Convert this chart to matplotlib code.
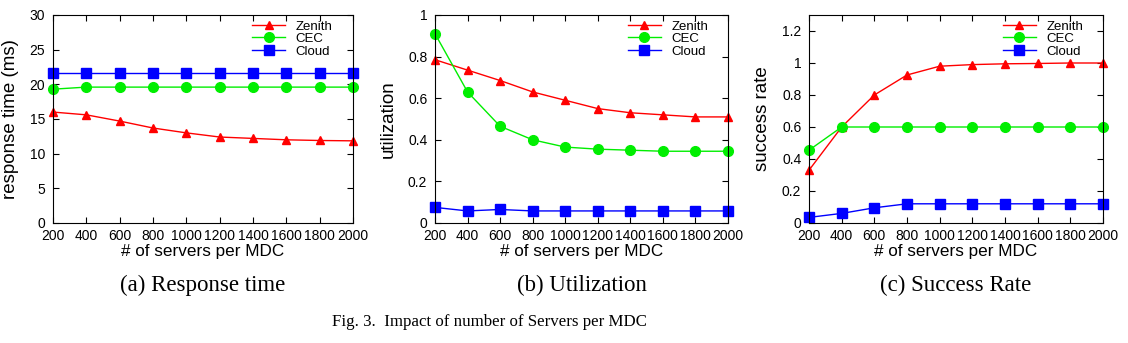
import matplotlib
matplotlib.use('Agg')
import matplotlib.pyplot as plt

plt.rcParams['font.family'] = ['Liberation Sans', 'DejaVu Sans']

# número de servidores por MDC
servers = [200, 400, 600, 800, 1000, 1200, 1400, 1600, 1800, 2000]

# (a) tiempo de respuesta (ms)
resp_zenith = [16.0, 15.6, 14.7, 13.7, 13.0, 12.4, 12.2, 12.0, 11.9, 11.85]
resp_cec = [19.3, 19.6, 19.6, 19.6, 19.6, 19.6, 19.6, 19.6, 19.6, 19.6]
resp_cloud = [21.7, 21.7, 21.7, 21.7, 21.7, 21.7, 21.7, 21.7, 21.7, 21.7]

# (b) utilización
util_zenith = [0.785, 0.735, 0.685, 0.63, 0.59, 0.55, 0.53, 0.52, 0.51, 0.51]
util_cec = [0.91, 0.63, 0.465, 0.40, 0.365, 0.355, 0.35, 0.345, 0.345, 0.345]
util_cloud = [0.075, 0.058, 0.065, 0.058, 0.058, 0.058, 0.058, 0.058, 0.058, 0.058]

# (c) tasa de éxito
succ_zenith = [0.33, 0.60, 0.80, 0.925, 0.98, 0.99, 0.995, 0.997, 1.0, 1.0]
succ_cec = [0.455, 0.60, 0.60, 0.60, 0.60, 0.60, 0.60, 0.60, 0.60, 0.60]
succ_cloud = [0.035, 0.06, 0.095, 0.12, 0.12, 0.12, 0.12, 0.12, 0.12, 0.12]

fig = plt.figure(figsize=(11.28, 3.43), dpi=100)

paneles = [
    ([53, 15, 300, 208], resp_zenith, resp_cec, resp_cloud, (0, 30), [0, 5, 10, 15, 20, 25, 30],
     ['0', '5', '10', '15', '20', '25', '30'], 'response time (ms)', '(a) Response time'),
    ([435, 15, 293, 208], util_zenith, util_cec, util_cloud, (0, 1), [0, 0.2, 0.4, 0.6, 0.8, 1],
     ['0', '0.2', '0.4', '0.6', '0.8', '1'], 'utilization', '(b) Utilization'),
    ([809, 15, 294, 208], succ_zenith, succ_cec, succ_cloud, (0, 1.3), [0, 0.2, 0.4, 0.6, 0.8, 1, 1.2],
     ['0', '0.2', '0.4', '0.6', '0.8', '1', '1.2'], 'success rate', '(c) Success Rate'),
]

W, H = 1128.0, 343.0
serif = ['Liberation Serif', 'DejaVu Serif']
for rect, zen, cec, cloud, ylim, yticks, ylabels, ylab, caption in paneles:
    x0, y0, w, h = rect
    ax = fig.add_axes([x0 / W, 1 - (y0 + h) / H, w / W, h / H])
    ax.plot(servers, zen, color='#ff0000', marker='^', markersize=6, lw=1, label='Zenith', clip_on=False)
    ax.plot(servers, cec, color='#00ee00', marker='o', markersize=7, lw=1, label='CEC', clip_on=False)
    ax.plot(servers, cloud, color='#0000ff', marker='s', markersize=7, lw=1, label='Cloud', clip_on=False)
    ax.set_xlim(200, 2000)
    ax.set_ylim(*ylim)
    ax.set_xticks(servers)
    ax.set_xticklabels([str(s) for s in servers])
    ax.set_yticks(yticks)
    ax.set_yticklabels(ylabels)
    ax.tick_params(direction='in', top=True, right=True, length=4.5, labelsize=10)
    ax.tick_params(axis='x', pad=4)
    ax.tick_params(axis='y', pad=5.5)
    ax.set_xlabel('# of servers per MDC', fontsize=12.3, labelpad=1)
    ax.set_ylabel(ylab, fontsize=13.5, labelpad=8)
    for s in ax.spines.values():
        s.set_linewidth(0.8)
    ax.legend(loc='upper right', frameon=False, fontsize=9.5, handlelength=2.5,
              borderaxespad=0, labelspacing=0.02, bbox_to_anchor=(0.95, 1.0))
    fig.text((x0 + w / 2) / W, 1 - 285 / H, caption, ha='center', va='center',
             fontsize=16.5, family=serif)

fig.text(490 / W, 1 - 322 / H, 'Fig. 3.  Impact of number of Servers per MDC', ha='center', va='center',
         fontsize=12.2, family=serif)

fig.savefig('out.png', dpi=100)
